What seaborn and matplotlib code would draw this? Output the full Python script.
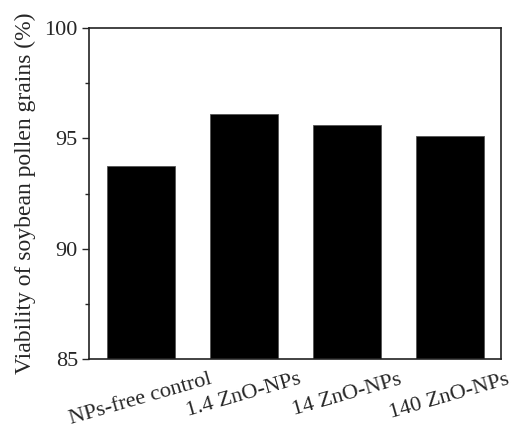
import numpy as np
import pandas as pd
import matplotlib
matplotlib.use('Agg')
import matplotlib.pyplot as plt
from matplotlib.ticker import MultipleLocator
import seaborn as sns

groups = ['NPs-free control', '1.4 ZnO-NPs', '14 ZnO-NPs', '140 ZnO-NPs']
viability = [93.75, 96.1, 95.6, 95.12]

df = pd.DataFrame({'group': groups, 'viability': viability})

sns.set_style('ticks')
plt.rcParams['font.family'] = ['Liberation Serif', 'DejaVu Serif']
plt.rcParams['mathtext.fontset'] = 'stix'

fig, ax = plt.subplots(figsize=(5.15, 4.3), dpi=100)
sns.barplot(data=df, x='group', y='viability', color='black', width=0.66,
            edgecolor='#555555', linewidth=0.6, ax=ax)

ax.set_ylim(85, 100)
ax.set_xlim(-0.5, 3.5)
ax.yaxis.set_major_locator(MultipleLocator(5))
ax.yaxis.set_minor_locator(MultipleLocator(2.5))
ax.tick_params(axis='y', which='major', direction='out', length=5, width=1,
               labelsize=16, pad=3)
ax.tick_params(axis='y', which='minor', direction='out', length=3, width=1)
ax.tick_params(axis='x', length=0, labelsize=16, pad=8)
for lbl in ax.get_xticklabels():
    lbl.set_rotation(16)
    lbl.set_ha('center')
for s in ax.spines.values():
    s.set_visible(True)
    s.set_linewidth(1.2)
    s.set_color('#222222')

ax.set_xlabel('')
ax.set_ylabel('Viability of soybean pollen grains (%)', fontsize=17, labelpad=6)

fig.subplots_adjust(left=0.173, right=0.973, top=0.935, bottom=0.165)
fig.savefig('out.png', dpi=100)
